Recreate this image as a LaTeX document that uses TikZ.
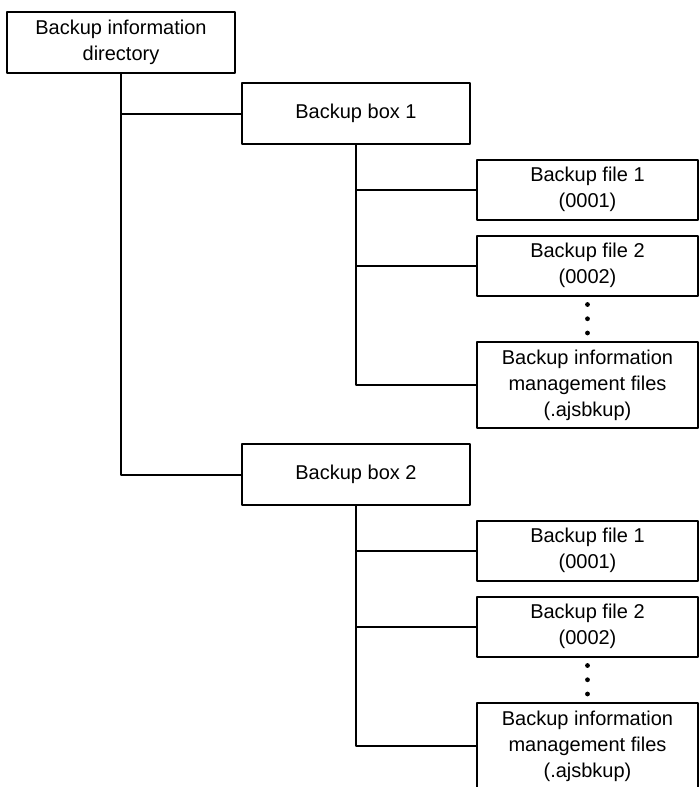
\documentclass[tikz,border=0pt]{standalone}
\usepackage{fontspec}
\setmainfont{Liberation Sans}
\begin{document}
\begin{tikzpicture}[x=0.5pt, y=-0.5pt, font=\fontsize{10}{13}\selectfont, line join=round, line cap=round, line width=1pt,
	dirbox/.style={draw, align=center, minimum width=114pt, minimum height=30.5pt, inner sep=0pt},
	filebox/.style={draw, align=center, minimum width=110.5pt, minimum height=30pt, inner sep=0pt},
	vdot/.style={circle, fill, inner sep=0pt, minimum size=2.4pt}]
			\useasboundingbox (0,0) rectangle (699,787);
			\clip (0,0) rectangle (699,787);
			\node[dirbox] (root) at (121,42.5) {Backup information\\directory};
			\foreach \i/\dy in {1/0,2/361}{
				\node[dirbox] (box\i) at (356,113.5+\dy) {Backup box \i};
				\node[filebox] (file\i a) at (587.5,189.5+\dy) {Backup file 1\\(0001)};
				\node[filebox] (file\i b) at (587.5,265.5+\dy) {Backup file 2\\(0002)};
				\node[filebox, minimum height=43pt] (mgmt\i) at (587.5,385+\dy) {Backup information\\management files\\(.ajsbkup)};
				\draw (box\i.south) |- (mgmt\i.west);
				\draw (box\i.south |- file\i a.west) -- (file\i a.west);
				\draw (box\i.south |- file\i b.west) -- (file\i b.west);
				\path (file\i b.south) -- (mgmt\i.north)
				node[pos=.18, vdot] (dot\i a) {}
				node[pos=.5, vdot] (dot\i b) {}
				node[pos=.82, vdot] (dot\i c) {};
			}
			\draw (root.south) |- (box2.west);
			\draw (root.south |- box1.west) -- (box1.west);
\end{tikzpicture}
\end{document}
